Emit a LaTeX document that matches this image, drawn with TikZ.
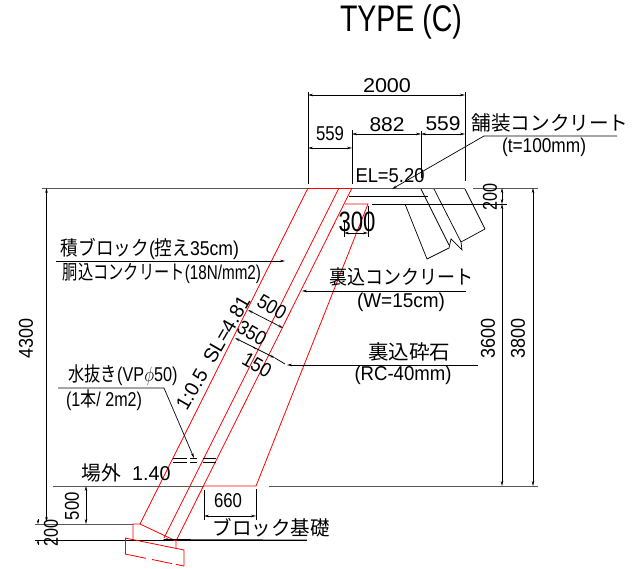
\documentclass[tikz,border=0pt]{standalone}
\usepackage{fontspec}
\usepackage{graphicx}
\usetikzlibrary{arrows.meta}
\setmainfont{Liberation Sans}
\newfontfamily\jp{Noto Sans CJK JP}
\newcommand{\fw}[2]{\resizebox{#1pt}{\height}{#2}}
\tikzset{
  dimline/.style={draw=black,line width=0.7pt,{Stealth[length=5pt,width=2.6pt]}-{Stealth[length=5pt,width=2.6pt]}},
  extline/.style={draw=black,line width=0.7pt},
  leaderline/.style={draw=black,line width=0.7pt,-{Stealth[length=5pt,width=2.6pt]}},
  groundline/.style={draw=black!65,line width=0.9pt},
  redline/.style={draw=red,line width=0.8pt},
  blackline/.style={draw=black,line width=0.7pt},
  lbl/.style={inner sep=0pt,font=\fontsize{20}{20}\selectfont},
  dimtxt/.style={inner sep=0pt,font=\fontsize{20}{20}\selectfont},
}
\begin{document}
\begin{tikzpicture}[x=1pt,y=-1pt]
\useasboundingbox (0,0) rectangle (642,569);
% title
\node[inner sep=0pt,font=\fontsize{37}{37}\selectfont] (title) at (401,22) {\fw{122}{TYPE (C)}};
% ground
\draw[groundline] (42,188) -- (308,188);
\draw[groundline] (352,188) -- (465,188);
\draw[groundline] (473,188) -- (538,188);
\draw[groundline] (53,486) -- (204,486);
\draw[groundline] (269,486) -- (538,486);
\draw[groundline] (35,524) -- (133,524);
\draw[blackline] (35,540) -- (307,540);
% red structure
\draw[redline] (308,188) -- (352,188);
\draw[redline] (308,188) -- (140,524) -- (133,524) -- (133,540);
\draw[redline] (339,188) -- (164,538);
\draw[redline] (352,188) -- (176,541);
\draw[redline] (140,524) -- (176,541) -- (176,549);
\draw[redline] (345,204) -- (368,204) -- (256,486) -- (204,486);
\draw[redline] (125,538) -- (184,550) -- (184,566);
\draw[redline] (125,538) -- (125,554);
\draw[redline] (125,554) -- (146,558.3);
\draw[redline] (152,559.5) -- (172,563.6);
\draw[redline] (176,564.4) -- (184,566);
% pavement
\draw[blackline] (349,196) -- (428,196);
\draw[blackline] (421,189) -- (449,245);
\draw[blackline] (434,189) -- (461,242);
\draw[blackline] (465,189) -- (485,229);
\draw[blackline] (405,204) -- (427,259) -- (449,248) -- (451,239) -- (462,250) -- (461,242) -- (485,229);
\draw[blackline] (372,204) -- (507,204);
% top dims
\draw[extline] (308,92) -- (308,184);
\draw[extline] (465,92) -- (465,181);
\draw[extline] (352,130) -- (352,184);
\draw[extline] (421,131) -- (421,178);
\draw[dimline] (308,95) -- (465,95);
\draw[dimline] (308,148) -- (352,148);
\draw[dimline] (352,134) -- (421,134);
\draw[dimline] (421,134) -- (465,134);
\node[dimtxt] (d2000) at (387,86) {\fw{48}{2000}};
\node[dimtxt] (d559a) at (330,134) {\fw{28}{559}};
\node[dimtxt] (d882) at (387,125) {\fw{35}{882}};
\node[dimtxt] (d559b) at (443,124) {\fw{35}{559}};
\node[dimtxt] (el) at (390,176) {\fw{69}{EL=5.20}};
% paving leader
\coordinate (pavA) at (617,136);
\coordinate (pavB) at (484,136);
\coordinate (pavC) at (392,189);
\draw[leaderline] (pavA) -- (pavB) -- (pavC);
\node[lbl] (pav) at (550,123) {\fw{157}{\jp 舗装コンクリート}};
\node[dimtxt] (pavt) at (544,147) {\fw{84}{(t=100mm)}};
% 300
\draw[extline] (344,222) -- (344,237);
\draw[extline] (368,206) -- (368,237);
\draw[dimline] (344,233) -- (368,233);
\node[inner sep=0pt,font=\fontsize{28}{28}\selectfont] (d300) at (357,222) {\fw{37}{300}};
% right dims
\draw[dimline] (502,188) -- (502,204);
\draw[dimline] (502,204) -- (502,486);
\draw[dimline] (533,188) -- (533,486);
\node[dimtxt,rotate=90] (d200r) at (490,197) {\fw{27}{200}};
\node[dimtxt,rotate=90] (d3600) at (488,338) {\fw{40}{3600}};
\node[dimtxt,rotate=90] (d3800) at (518,338) {\fw{40}{3800}};
% left dims
\draw[dimline] (46.5,188) -- (46.5,522);
\node[dimtxt,rotate=90] (d4300) at (26,338) {\fw{40}{4300}};
\draw[dimline] (86,486) -- (86,524);
\node[dimtxt,rotate=90] (d500l) at (72,506) {\fw{28}{500}};
\draw[blackline,-{Stealth[length=4pt,width=2.4pt]}] (38,519) -- (38,524);
\draw[blackline,-{Stealth[length=4pt,width=2.4pt]}] (38,545) -- (38,540);
\node[dimtxt,rotate=90] (d200l) at (51,533) {\fw{27}{200}};
% 660
\draw[extline] (204,490) -- (204,520);
\draw[extline] (256,489) -- (256,520);
\draw[dimline] (204,516) -- (256,516);
\node[dimtxt] (d660) at (228,501) {\fw{28}{660}};
\coordinate (blkA) at (307,540);
\coordinate (blkB) at (163,539.5);
\draw[leaderline] (blkA) -- (blkB);
\node[lbl] (blk) at (271,528) {\fw{117}{\jp ブロック基礎}};
\node[dimtxt] (out) at (126,473) {\fw{89}{{\jp 場外}\ \ 1.40}};
% drain
\foreach \yy in {458,462.5}{
  \draw[blackline] (173,\yy) -- (187,\yy);
  \draw[blackline] (190,\yy) -- (197,\yy);
  \draw[blackline] (203,\yy) -- (216,\yy);
}
\coordinate (drA) at (58,388);
\coordinate (drB) at (164,388);
\coordinate (drC) at (194,458);
\draw[leaderline] (drA) -- (drB) -- (drC);
\node[dimtxt] (dr1) at (123,375) {\fw{109}{{\jp 水抜き}(VP$\phi$50)}};
\node[dimtxt] (dr2) at (104,400) {\fw{76}{(1{\jp 本}/ 2m2)}};
% block leader
\coordinate (bkA) at (56,261);
\coordinate (bkB) at (285,261);
\draw[leaderline] (bkA) -- (bkB);
\node[lbl] (bk1) at (150,249) {\fw{178}{{\jp 積ブロック}({\jp 控え}35cm)}};
\node[lbl] (bk2) at (162,273) {\fw{198}{{\jp 胴込コンクリート}(18N/mm2)}};
% backfill leaders
\coordinate (urA) at (466,291);
\coordinate (urB) at (302,291);
\draw[leaderline] (urA) -- (urB);
\node[lbl] (ur1) at (401,277) {\fw{144}{\jp 裏込コンクリート}};
\node[dimtxt] (ur2) at (401,302) {\fw{88}{(W=15cm)}};
\coordinate (saA) at (478,365);
\coordinate (saB) at (287,365);
\draw[leaderline] (saA) -- (saB);
\node[lbl] (sa1) at (409,352) {\fw{82}{\jp 裏込砕石}};
\node[dimtxt] (sa2) at (403,375) {\fw{97}{(RC-40mm)}};
% slope dims
\draw[dimline] (248,310) -- (283,328);
\draw[dimline] (235,338) -- (275,358);
\draw[blackline] (275,358) -- (285,364);
\draw[blackline] (253,347) -- (256,349);
\node[dimtxt,rotate=-30] (s500) at (272,307) {\fw{30}{500}};
\node[dimtxt,rotate=-30] (s350) at (252,333) {\fw{30}{350}};
\node[dimtxt,rotate=-30] (s150) at (257,365) {\fw{30}{150}};
\node[dimtxt,rotate=60] (slope) at (213,353) {\fw{128}{1:0.5\ \ SL=4.81}};
\end{tikzpicture}
\end{document}
